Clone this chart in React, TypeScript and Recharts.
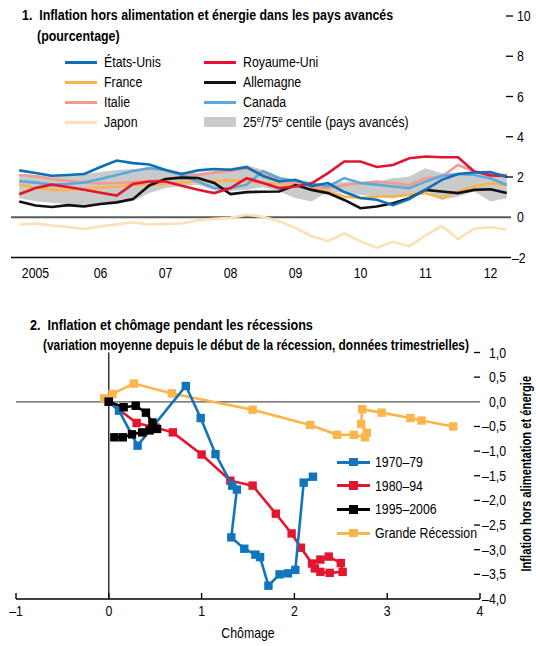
import React from 'react';
import { ComposedChart, Line, Area, XAxis, YAxis, ReferenceLine, ScatterChart, Scatter } from 'recharts';

const FONT = "'Liberation Sans', Arial, sans-serif";
const FS = 14;
const KR = 0.88; // horizontal squeeze for regular text (condensed look)
const KB = 0.8; // horizontal squeeze for bold text

// ---------- Chart 1 data ----------
const quarters = ['2005T2','2005T3','2005T4','2006T1','2006T2','2006T3','2006T4','2007T1','2007T2','2007T3','2007T4','2008T1','2008T2','2008T3','2008T4','2009T1','2009T2','2009T3','2009T4','2010T1','2010T2','2010T3','2010T4','2011T1','2011T2','2011T3','2011T4','2012T1','2012T2','2012T3','2012T4'];
const yearLabels = ['2005','06','07','08','09','10','11','12'];
const etatsUnis = [2.33,2.2,2.06,2.1,2.15,2.5,2.82,2.69,2.62,2.35,2.15,2.33,2.4,2.36,2.49,2.05,1.78,1.86,1.55,1.7,1.25,0.96,0.87,0.6,0.9,1.37,1.86,2.15,2.22,2.25,2.0];
const france = [1.62,1.45,1.36,1.36,1.42,1.47,1.53,1.62,1.6,1.67,1.72,1.8,1.8,1.83,1.8,1.7,1.69,1.53,1.44,1.28,1.03,0.95,1.03,1.03,1.11,1.2,0.95,1.28,1.53,1.69,1.6];
const italie = [2.1,2.03,1.9,1.8,1.72,1.68,1.7,1.75,1.8,1.86,2.03,2.1,2.23,2.3,2.44,2.2,1.86,1.69,1.5,1.44,1.6,1.69,1.77,1.69,1.6,1.94,2.02,2.6,2.27,2.15,2.1];
const japon = [-0.36,-0.31,-0.41,-0.48,-0.58,-0.45,-0.36,-0.25,-0.36,-0.33,-0.31,-0.15,-0.08,-0.03,0.13,0.02,-0.2,-0.53,-0.94,-1.19,-0.81,-1.19,-1.52,-1.22,-1.44,-0.9,-0.43,-1.08,-0.57,-0.5,-0.61];
const royaumeUni = [1.14,1.45,1.62,1.5,1.37,1.22,1.08,1.65,1.78,1.78,1.57,1.37,1.2,1.45,1.94,1.7,1.45,1.53,1.69,2.19,2.77,2.77,2.5,2.6,2.93,3.02,2.98,2.98,2.27,2.08,2.05];
const allemagne = [0.78,0.58,0.51,0.6,0.54,0.66,0.74,0.9,1.58,1.9,1.97,1.95,1.7,1.15,1.25,1.27,1.28,1.6,1.36,1.2,0.86,0.45,0.53,0.7,0.95,1.36,1.28,1.2,1.36,1.39,1.2];
const canada = [1.8,1.72,1.62,1.65,1.73,1.9,2.1,2.3,2.44,2.35,2.1,1.78,1.44,1.44,1.62,2.3,1.94,1.8,1.68,1.53,1.94,1.7,1.62,1.53,1.44,1.77,2.05,2.15,2.1,1.94,1.6];
const centile25 = [0.95,0.8,0.72,0.65,0.65,0.68,0.72,0.8,1.2,1.45,1.55,1.6,1.35,1.3,1.35,1.5,1.28,0.95,0.78,1.28,1.2,1.11,1.03,0.95,1.11,1.36,0.86,1.03,1.28,0.78,0.95];
const centile75 = [2.15,2.1,2.05,2.1,2.15,2.25,2.35,2.4,2.4,2.35,2.25,2.2,2.3,2.45,2.6,2.35,2.02,1.77,1.53,1.69,1.77,1.77,1.77,1.94,2.02,2.44,2.19,2.19,2.02,2.1,2.02];
const yTicks1 = [-2,-1,0,1,2,3,4,5,6,7,8,9,10];

const C = {
  us: '#0d6fb8', fr: '#fbb44c', it: '#f59a8f', jp: '#fde0b3', uk: '#e3142f', de: '#111111', ca: '#5ba8de', band: '#c8cbca',
};

const series1 = [
  { key: 'jp', name: 'Japon', color: C.jp, values: japon },
  { key: 'fr', name: 'France', color: C.fr, values: france },
  { key: 'it', name: 'Italie', color: C.it, values: italie },
  { key: 'ca', name: 'Canada', color: C.ca, values: canada },
  { key: 'de', name: 'Allemagne', color: C.de, values: allemagne },
  { key: 'uk', name: 'Royaume-Uni', color: C.uk, values: royaumeUni },
  { key: 'us', name: 'États-Unis', color: C.us, values: etatsUnis },
];

const toYear = (q: string) => parseInt(q.slice(0, 4), 10) + (parseInt(q.slice(5), 10) - 1) / 4;

const data1 = quarters.map((q, i) => {
  const row: any = { t: toYear(q), band: [centile25[i], centile75[i]] };
  series1.forEach((s) => { row[s.key] = s.values[i]; });
  return row;
});

const legend1 = [
  { name: 'États-Unis', color: C.us, col: 0, row: 0 },
  { name: 'France', color: C.fr, col: 0, row: 1 },
  { name: 'Italie', color: C.it, col: 0, row: 2 },
  { name: 'Japon', color: C.jp, col: 0, row: 3 },
  { name: 'Royaume-Uni', color: C.uk, col: 1, row: 0 },
  { name: 'Allemagne', color: C.de, col: 1, row: 1 },
  { name: 'Canada', color: C.ca, col: 1, row: 2 },
];

// ---------- Chart 2 data ----------
const rec1970 = [
  [0, 0], [0.11, -0.18], [0.31, -0.89], [0.83, 0.32], [0.99, -0.33], [1.15, -1.06], [1.33, -1.7], [1.38, -1.78],
  [1.32, -2.75], [1.46, -2.98], [1.58, -3.1], [1.63, -3.15], [1.72, -3.73], [1.84, -3.5], [1.93, -3.48], [2.01, -3.41],
  [2.1, -1.64], [2.2, -1.52],
];
const rec1980 = [
  [0, 0], [0.3, -0.43], [0.5, -0.52], [0.69, -0.62], [1.0, -1.07], [1.31, -1.6], [1.55, -1.7], [1.8, -2.27],
  [1.97, -2.67], [2.07, -2.96], [2.19, -3.28], [2.28, -3.2], [2.37, -3.14], [2.5, -3.27], [2.52, -3.45], [2.38, -3.47],
  [2.28, -3.45], [2.22, -3.38],
];
const rec1995 = [
  [0, 0], [0.16, -0.11], [0.29, -0.08], [0.4, -0.22], [0.47, -0.42], [0.52, -0.55], [0.44, -0.58], [0.36, -0.62],
  [0.25, -0.66], [0.15, -0.72], [0.06, -0.72],
];
const recGrande = [
  [-0.05, 0.07], [0.04, 0.16], [0.27, 0.37], [0.68, 0.17], [1.55, -0.16], [2.17, -0.47], [2.46, -0.67], [2.64, -0.67],
  [2.76, -0.72], [2.78, -0.63], [2.72, -0.45], [2.73, -0.15], [2.94, -0.22], [3.25, -0.33], [3.37, -0.38], [3.71, -0.5],
];
const xTicks2 = [-1, 0, 1, 2, 3, 4];
const yTicks2 = [-4, -3.75, -3.5, -3.25, -3, -2.75, -2.5, -2.25, -2, -1.75, -1.5, -1.25, -1, -0.75, -0.5, -0.25, 0, 0.25, 0.5, 0.75, 1];

const series2 = [
  { name: 'Grande Récession', color: '#fbb54a', pts: recGrande },
  { name: '1980–94', color: '#e3162f', pts: rec1980 },
  { name: '1970–79', color: '#1175bd', pts: rec1970 },
  { name: '1995–2006', color: '#000000', pts: rec1995 },
];
const legend2 = ['1970–79', '1980–94', '1995–2006', 'Grande Récession'];

const fmt2 = (v: number) => (v < 0 ? '–' : '') + Math.abs(v).toFixed(1).replace('.', ',');

// ---------- text helpers ----------
function SText(props: { x: number; y: number; anchor?: string; bold?: boolean; rotate?: number; children: any }) {
  const k = props.bold ? KB : KR;
  return (
    <text
      transform={`translate(${props.x},${props.y})${props.rotate ? ` rotate(${props.rotate})` : ''} scale(${k},1)`}
      textAnchor={props.anchor || 'start'} fontFamily={FONT} fontSize={FS} fontWeight={props.bold ? 'bold' : 'normal'} fill="#000"
    >
      {props.children}
    </text>
  );
}

function HText(props: { left: number; top: number; bold?: boolean; k?: number; children: any }) {
  const k = props.k || (props.bold ? KB : KR);
  return (
    <div
      style={{
        position: 'absolute', left: props.left, top: props.top, fontFamily: FONT, fontSize: FS, lineHeight: '16px',
        fontWeight: props.bold ? 'bold' : 'normal', whiteSpace: 'nowrap', color: '#000',
        transform: `scaleX(${k})`, transformOrigin: '0 50%',
      }}
    >
      {props.children}
    </div>
  );
}

// ---------- Chart 1 ----------
const T1_LEFT = 11;
const T1_RIGHT = 511;
const yearStart = 2005;
const pxPerYear = 65;
const xDomain1: [number, number] = [yearStart + (T1_LEFT - 3) / pxPerYear, yearStart + (T1_RIGHT - 3) / pxPerYear];
const xTicks1: number[] = [];
yearLabels.forEach((_, i) => { if (i > 0) xTicks1.push(yearStart + i); xTicks1.push(yearStart + i + 0.5); });

function Chart1() {
  return (
    <div style={{ position: 'absolute', left: 0, top: 0, width: 536, height: 290 }}>
      <ComposedChart width={536} height={290} data={data1} margin={{ top: 16, right: 0, bottom: 0, left: 0 }}>
        <XAxis
          dataKey="t" type="number" domain={xDomain1} ticks={xTicks1} allowDataOverflow
          height={32.5} tickSize={0} tickMargin={0} tickLine={false}
          axisLine={{ stroke: '#000', strokeWidth: 1.6 }}
          tick={(p: any) => {
            const v = p.payload.value;
            if (Number.isInteger(v)) {
              return <line x1={p.x} x2={p.x} y1={p.y - 7} y2={p.y} stroke="#000" strokeWidth={1.4} />;
            }
            const label = yearLabels[Math.floor(v) - yearStart];
            return <SText x={p.x} y={p.y + 20} anchor="middle">{label}</SText>;
          }}
        />
        <YAxis
          yAxisId="l" orientation="left" width={T1_LEFT} domain={[-2, 10]} ticks={yTicks1} tickSize={0} tickMargin={0}
          tickLine={false} axisLine={false}
          tick={(p: any) => {
            const major = p.payload.value % 2 === 0;
            if (p.payload.value === -2 || p.payload.value === 0) return <g />;
            return <line x1={p.x - 1} x2={p.x + (major ? 6 : 3)} y1={p.y} y2={p.y} stroke="#000" strokeWidth={1.3} />;
          }}
        />
        <YAxis
          yAxisId="r" orientation="right" width={536 - T1_RIGHT} domain={[-2, 10]} ticks={yTicks1} tickSize={0} tickMargin={0}
          tickLine={false} axisLine={false}
          tick={(p: any) => {
            const v = p.payload.value;
            const major = v % 2 === 0;
            return (
              <g>
                {v !== -2 && v !== 0 && (
                  <line x1={p.x - (major ? 5 : 0)} x2={p.x + (major ? 2 : 4)} y1={p.y} y2={p.y} stroke="#000" strokeWidth={1.3} />
                )}
                {major && (
                  <SText x={v < 0 ? p.x + 1 : p.x + 6} y={p.y + 5}>{v < 0 ? '–' + Math.abs(v) : String(v)}</SText>
                )}
              </g>
            );
          }}
        />
        <Area yAxisId="r" dataKey="band" stroke="none" fill={C.band} fillOpacity={1} isAnimationActive={false} />
        <ReferenceLine yAxisId="r" y={0} stroke="#5a5a5a" strokeWidth={2} />
        {series1.map((s) => (
          <Line key={s.key} yAxisId="r" dataKey={s.key} stroke={s.color} strokeWidth={2.6} dot={false} isAnimationActive={false} />
        ))}
      </ComposedChart>
      <HText left={22} top={7} bold k={0.885}>1.&nbsp; Inflation hors alimentation et énergie dans les pays avancés</HText>
      <HText left={37} top={28} bold k={0.885}>(pourcentage)</HText>
      {legend1.map((l) => (
        <div key={l.name} style={{ position: 'absolute', left: l.col ? 204 : 65, top: 62 + l.row * 20 - 8, height: 16, width: 220 }}>
          <div style={{ position: 'absolute', left: 0, top: 7, width: 32, height: 3, background: l.color }} />
          <HText left={39} top={0}>{l.name}</HText>
        </div>
      ))}
      <div style={{ position: 'absolute', left: 204, top: 114, height: 16, width: 260 }}>
        <div style={{ position: 'absolute', left: 0, top: 3, width: 32, height: 10, background: C.band }} />
        <HText left={39} top={0}>
          25<sup style={{ fontSize: 9, verticalAlign: 'top', lineHeight: '10px' }}>e</sup>/75<sup style={{ fontSize: 9, verticalAlign: 'top', lineHeight: '10px' }}>e</sup> centile (pays avancés)
        </HText>
      </div>
    </div>
  );
}

// ---------- Chart 2 ----------
const T2_TOP = 300;
const T2_LEFT = 16;
const T2_RIGHT = 480;

const Square = (color: string) => (p: any) => (
  <rect x={p.cx - 4.2} y={p.cy - 4.2} width={8.4} height={8.4} fill={color} />
);

function Chart2() {
  return (
    <div style={{ position: 'absolute', left: 0, top: T2_TOP, width: 536, height: 346 }}>
      <ScatterChart width={536} height={346} margin={{ top: 52.5, right: 0, bottom: 0, left: 0 }}>
        <XAxis
          dataKey="x" type="number" domain={[-1, 4]} ticks={xTicks2} height={47} tickSize={0} tickMargin={0} tickLine={false}
          axisLine={{ stroke: '#000', strokeWidth: 1.6 }}
          tick={(p: any) => {
            const v = p.payload.value;
            return (
              <g>
                <line x1={p.x} x2={p.x} y1={p.y - 6} y2={p.y} stroke="#000" strokeWidth={1.4} />
                <SText x={p.x} y={p.y + 17} anchor="middle">{v < 0 ? '–' + Math.abs(v) : String(v)}</SText>
              </g>
            );
          }}
          label={{
            content: (lp: any) => {
              const vb = lp.viewBox;
              return <SText x={vb.x + vb.width / 2} y={vb.y + 39} anchor="middle">Chômage</SText>;
            },
          }}
        />
        <YAxis
          yAxisId="l" dataKey="y" type="number" orientation="left" width={T2_LEFT} domain={[-4, 1]} ticks={yTicks2}
          tickSize={0} tickMargin={0} tickLine={false} axisLine={false}
          tick={(p: any) => {
            const v = p.payload.value;
            if (v === -4 || v === 1 || v === 0) return <g />;
            const major = Math.abs(v * 2 - Math.round(v * 2)) < 1e-6;
            return <line x1={p.x - 1} x2={p.x + (major ? 6 : 3)} y1={p.y} y2={p.y} stroke="#000" strokeWidth={1.3} />;
          }}
        />
        <YAxis
          yAxisId="r" dataKey="y" type="number" orientation="right" width={536 - T2_RIGHT} domain={[-4, 1]} ticks={yTicks2}
          tickSize={0} tickMargin={0} tickLine={false} axisLine={false}
          tick={(p: any) => {
            const v = p.payload.value;
            const major = Math.abs(v * 2 - Math.round(v * 2)) < 1e-6;
            return (
              <g>
                {v !== -4 && v !== 0 && (
                  <line x1={p.x - (major ? 6 : 4)} x2={p.x} y1={p.y} y2={p.y} stroke="#000" strokeWidth={1.3} />
                )}
                {major && <SText x={p.x + 26} y={p.y + 5} anchor="end">{fmt2(v)}</SText>}
              </g>
            );
          }}
          label={{
            content: (lp: any) => {
              const vb = lp.viewBox;
              const cx = vb.x + vb.width - 5;
              const cy = vb.y + vb.height / 2 - 2;
              return <SText x={cx} y={cy} rotate={-90} anchor="middle" bold>Inflation hors alimentation et énergie</SText>;
            },
          }}
        />
        <ReferenceLine yAxisId="r" y={0} stroke="#555" strokeWidth={1.2} />
        <ReferenceLine yAxisId="r" x={0} stroke="#000" strokeWidth={1.2} />
        {series2.map((s) => (
          <Scatter
            key={s.name} yAxisId="r" name={s.name} data={s.pts.map(([x, y]) => ({ x, y }))}
            line={{ stroke: s.color, strokeWidth: 2.6 }} lineType="joint" shape={Square(s.color)} fill={s.color}
            isAnimationActive={false}
          />
        ))}
      </ScatterChart>
      <HText left={30} top={17} bold k={0.9}>2.&nbsp; Inflation et chômage pendant les récessions</HText>
      <HText left={43} top={37} bold k={0.85}>(variation moyenne depuis le début de la récession, données trimestrielles)</HText>
      {legend2.map((name, i) => {
        const s = series2.find((x) => x.name === name)!;
        return (
          <div key={name} style={{ position: 'absolute', left: 337, top: 162 + i * 23.7 - 8, height: 16, width: 180 }}>
            <div style={{ position: 'absolute', left: 0, top: 6.5, width: 33, height: 3, background: s.color }} />
            <div style={{ position: 'absolute', left: 12.3, top: 3.8, width: 8.4, height: 8.4, background: s.color }} />
            <HText left={38} top={0}>{name}</HText>
          </div>
        );
      })}
    </div>
  );
}

export default function App() {
  return (
    <div style={{ position: 'absolute', left: 0, top: 0, width: 536, height: 646, background: '#fff', overflow: 'hidden' }}>
      <Chart1 />
      <Chart2 />
    </div>
  );
}
